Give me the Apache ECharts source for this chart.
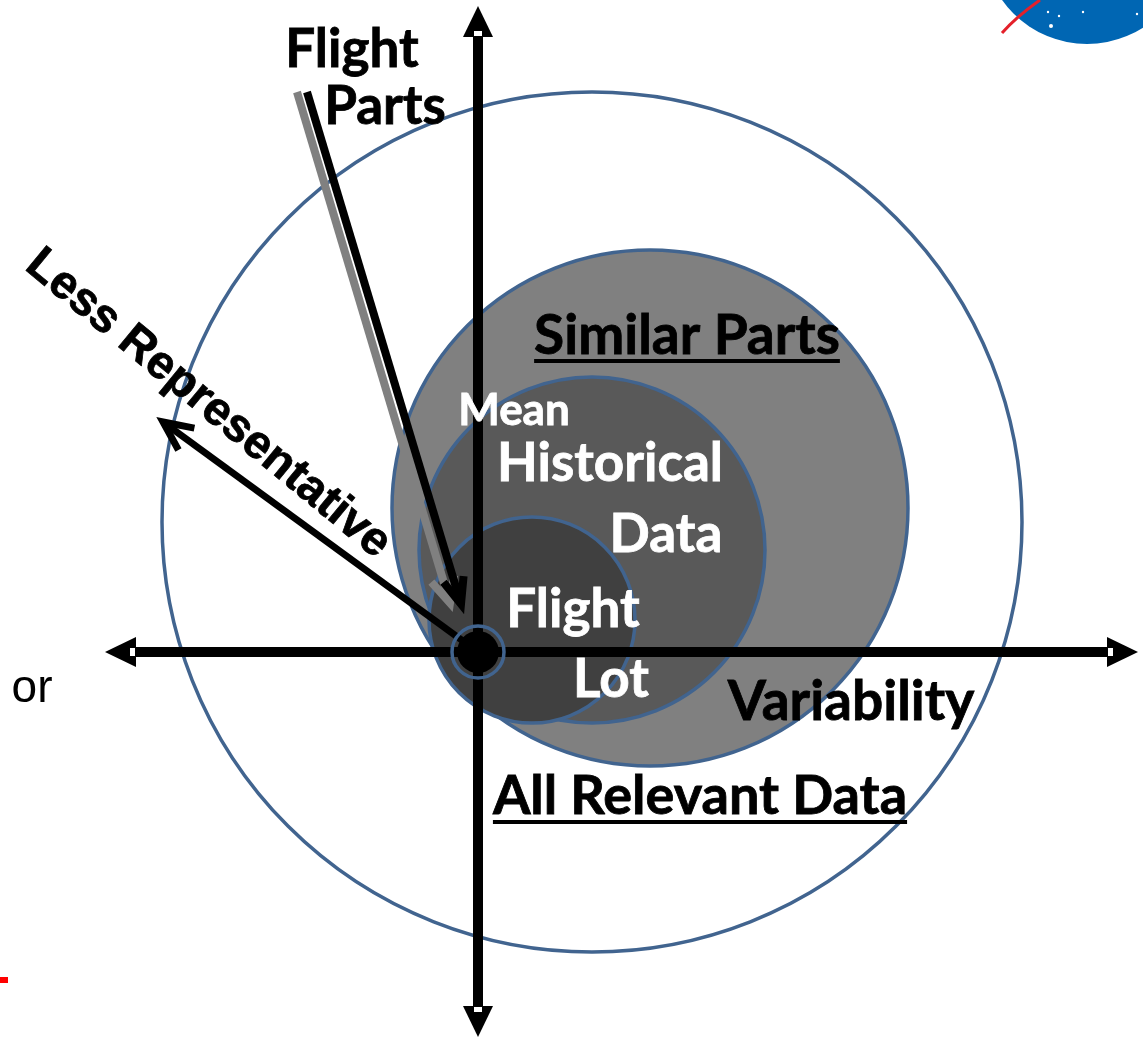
<!DOCTYPE html>
<html>
<head>
<meta charset="utf-8">
<script src="https://cdn.jsdelivr.net/npm/echarts@6/dist/echarts.min.js"></script>
<style>
html,body{margin:0;padding:0;background:#ffffff;}
#c{width:1143px;height:1038px;}
</style>
</head>
<body>
<div id="c"></div>
<script>
// ---------- DATA (1 unit = 10 px of the picture, origin at the mean point) ----------
const circleNames   = ['All Relevant Data', 'Similar Parts', 'Historical Data', 'Flight Lot'];
const circleCenterX = [11.4, 17.2, 11.4, 5.4];
const circleCenterY = [13.0, 14.4, 10.2, 3.2];
const circleRadius  = [43.0, 25.8, 17.3, 10.3];

const meanPoint      = [0, 0];
const meanRingRadius = 2.6;
const meanDotRadius  = 2.1;

const axisNames = ['Variability', 'Representativeness'];
const axisFromX = [-37.3, 0];
const axisFromY = [0, -38.5];
const axisToX   = [66.0, 0];
const axisToY   = [0, 64.6];

const arrowNames = ['Less Representative', 'Flight Parts (shadow)', 'Flight Parts'];
const arrowFromX = [0, -18.1, -17.1];
const arrowFromY = [0, 56.0, 56.0];
const arrowToX   = [-31.5, -2.8, -1.7];
const arrowToY   = [23.0, 4.9, 4.8];

const labelTexts = ['Flight', 'Parts', 'Similar Parts', 'Mean', 'Historical', 'Data',
                    'Flight', 'Lot', 'Variability', 'All Relevant Data', 'Less Representative', 'or'];
const labelX = [-12.6, -9.3, 20.9, 3.6, 13.2, 18.8, 9.5, 13.3, 37.3, 22.2, -27.0, -44.6];
const labelY = [60.2, 54.5, 31.6, 24.1, 18.8, 11.7, 4.2, -2.8, -5.0, -14.5, 24.8, -3.7];

// decorations at the picture edges (logo fragment, red mark)
const logoCenter = [60.9, 71.2];
const logoRadius = 10.4;
const logoSwooshX = [52.4, 56.2];
const logoSwooshY = [61.9, 65.2];
const logoStarX = [57.0, 58.1, 60.5, 57.3, 65.9];
const logoStarY = [64.0, 63.6, 64.0, 62.6, 63.8];
const redMarkX = [-47.8, -47.0];
const redMarkY = [-32.8, -32.8];

// ---------- STYLES ----------
const circleFill   = ['rgba(0,0,0,0)', '#808080', '#595959', '#404040'];
const circleStroke = '#41648F';
const calibriLike = 'Lato';
const labelStyle = [
  {size: 53, weight: 'bold', family: calibriLike, color: '#000'},
  {size: 53, weight: 'bold', family: calibriLike, color: '#000'},
  {size: 55, weight: 'bold', family: calibriLike, color: '#000', underline: true},
  {size: 44, weight: 'bold', family: calibriLike, color: '#fff'},
  {size: 53, weight: 'bold', family: calibriLike, color: '#fff'},
  {size: 53, weight: 'bold', family: calibriLike, color: '#fff'},
  {size: 53, weight: 'bold', family: calibriLike, color: '#fff'},
  {size: 53, weight: 'bold', family: calibriLike, color: '#fff'},
  {size: 55, weight: 'bold', family: calibriLike, color: '#000'},
  {size: 54, weight: 'bold', family: calibriLike, color: '#000', underline: true},
  {size: 47, weight: 'bold', family: '"Liberation Sans", Arial', color: '#000', rotate: -39.5},
  {size: 46, weight: 'normal', family: '"Liberation Sans", Arial', color: '#000'}
];
const arrowStyle = [
  {color: '#000', width: 7, headLen: 32, headAngle: 25},
  {color: '#808080', width: 8, headLen: 28, headAngle: 25},
  {color: '#000', width: 8, headLen: 28, headAngle: 22}
];

const measureCtx = document.createElement('canvas').getContext('2d');
function textWidth(txt, st) {
  measureCtx.font = st.weight + ' ' + st.size + 'px ' + st.family;
  return measureCtx.measureText(txt).width;
}

const chart = echarts.init(document.getElementById('c'), null, {renderer: 'canvas'});

const option = {
  backgroundColor: '#ffffff',
  animation: false,
  grid: {left: 0, right: 0, top: 0, bottom: 0, containLabel: false},
  xAxis: {type: 'value', min: -47.8, max: 66.5, show: false},
  yAxis: {type: 'value', min: -38.6, max: 65.2, show: false},
  series: [
    // logo fragment + red mark
    {
      type: 'custom', z: 1, clip: false,
      data: [[logoCenter[0], logoCenter[1], logoRadius]],
      renderItem: function (params, api) {
        const c = api.coord([api.value(0), api.value(1)]);
        const r = api.size([api.value(2), 0])[0];
        const ch = [{type: 'circle', shape: {cx: c[0], cy: c[1], r: r}, style: {fill: '#0066B3'}}];
        const s1 = api.coord([logoSwooshX[0], logoSwooshY[0]]);
        const s2 = api.coord([logoSwooshX[1], logoSwooshY[1]]);
        ch.push({type: 'bezierCurve', shape: {x1: s1[0], y1: s1[1], x2: s2[0], y2: s2[1],
                 cpx1: s1[0] + 14, cpy1: s1[1] - 16}, style: {stroke: '#E4202A', lineWidth: 3, fill: null}});
        for (let k = 0; k < logoStarX.length; k++) {
          const p = api.coord([logoStarX[k], logoStarY[k]]);
          ch.push({type: 'circle', shape: {cx: p[0], cy: p[1], r: k === 3 ? 2 : 1.2}, style: {fill: '#ffffff'}});
        }
        const m1 = api.coord([redMarkX[0], redMarkY[0]]);
        const m2 = api.coord([redMarkX[1], redMarkY[1]]);
        ch.push({type: 'line', shape: {x1: m1[0], y1: m1[1], x2: m2[0], y2: m2[1]}, style: {stroke: '#FF0000', lineWidth: 6}});
        return {type: 'group', children: ch};
      }
    },
    // circles
    {
      type: 'custom', z: 2, clip: false,
      data: circleNames.map((n, i) => [circleCenterX[i], circleCenterY[i], circleRadius[i]]),
      renderItem: function (params, api) {
        const c = api.coord([api.value(0), api.value(1)]);
        const r = api.size([api.value(2), 0])[0];
        return {type: 'circle', shape: {cx: c[0], cy: c[1], r: r},
                style: {fill: circleFill[params.dataIndex], stroke: circleStroke, lineWidth: 3.5}};
      }
    },
    // axes with filled arrowheads on both ends
    {
      type: 'custom', z: 3, clip: false,
      data: axisNames.map((n, i) => [axisFromX[i], axisFromY[i], axisToX[i], axisToY[i]]),
      renderItem: function (params, api) {
        const a = api.coord([api.value(0), api.value(1)]);
        const b = api.coord([api.value(2), api.value(3)]);
        const dx = b[0] - a[0], dy = b[1] - a[1], L = Math.hypot(dx, dy);
        const ux = dx / L, uy = dy / L, nx = -uy, ny = ux;
        const HL = 31, HW = 15, W = 10;
        const ch = [{type: 'line', shape: {x1: a[0] + ux * HL, y1: a[1] + uy * HL, x2: b[0] - ux * HL, y2: b[1] - uy * HL},
                     style: {stroke: '#000', lineWidth: W}}];
        [[a, -ux, -uy], [b, ux, uy]].forEach(function (e) {
          const t = e[0], ox = e[1], oy = e[2];
          ch.push({type: 'polygon', shape: {points: [
            [t[0], t[1]],
            [t[0] - ox * HL + nx * HW, t[1] - oy * HL + ny * HW],
            [t[0] - ox * HL - nx * HW, t[1] - oy * HL - ny * HW]]}, style: {fill: '#000'}});
          ch.push({type: 'polygon', shape: {points: [
            [t[0] - ox * 25 + nx * 4, t[1] - oy * 25 + ny * 4],
            [t[0] - ox * 30 + nx * 4, t[1] - oy * 30 + ny * 4],
            [t[0] - ox * 30 - nx * 4, t[1] - oy * 30 - ny * 4],
            [t[0] - ox * 25 - nx * 4, t[1] - oy * 25 - ny * 4]]}, style: {fill: '#fff'}});
        });
        return {type: 'group', children: ch};
      }
    },
    // open arrows
    {
      type: 'custom', z: 4, clip: false,
      data: arrowNames.map((n, i) => [arrowFromX[i], arrowFromY[i], arrowToX[i], arrowToY[i]]),
      renderItem: function (params, api) {
        const st = arrowStyle[params.dataIndex];
        const a = api.coord([api.value(0), api.value(1)]);
        const b = api.coord([api.value(2), api.value(3)]);
        const ang = Math.atan2(a[1] - b[1], a[0] - b[0]);
        const h = st.headAngle * Math.PI / 180;
        const p1 = [b[0] + st.headLen * Math.cos(ang + h), b[1] + st.headLen * Math.sin(ang + h)];
        const p2 = [b[0] + st.headLen * Math.cos(ang - h), b[1] + st.headLen * Math.sin(ang - h)];
        return {type: 'group', children: [
          {type: 'line', shape: {x1: a[0], y1: a[1], x2: b[0], y2: b[1]}, style: {stroke: st.color, lineWidth: st.width}},
          {type: 'polyline', shape: {points: [p1, b, p2]}, style: {stroke: st.color, lineWidth: st.width, fill: null, lineJoin: 'miter'}}
        ]};
      }
    },
    // mean point
    {
      type: 'custom', z: 5, clip: false,
      data: [[meanPoint[0], meanPoint[1], meanRingRadius, meanDotRadius]],
      renderItem: function (params, api) {
        const c = api.coord([api.value(0), api.value(1)]);
        const r1 = api.size([api.value(2), 0])[0];
        const r2 = api.size([api.value(3), 0])[0];
        return {type: 'group', children: [
          {type: 'circle', shape: {cx: c[0], cy: c[1], r: r1}, style: {fill: null, stroke: circleStroke, lineWidth: 3.5}},
          {type: 'circle', shape: {cx: c[0], cy: c[1], r: r2}, style: {fill: '#000'}}
        ]};
      }
    },
    // labels
    {
      type: 'custom', z: 6, clip: false,
      data: labelTexts.map((t, i) => [labelX[i], labelY[i]]),
      renderItem: function (params, api) {
        const i = params.dataIndex;
        const st = labelStyle[i];
        const p = api.coord([api.value(0), api.value(1)]);
        const ch = [{
          type: 'text', x: p[0], y: p[1], rotation: (st.rotate || 0) * Math.PI / 180,
          style: {text: labelTexts[i], fill: st.color, fontSize: st.size, fontWeight: st.weight,
                  fontFamily: st.family, align: 'center', verticalAlign: 'middle',
                  stroke: st.weight === 'bold' ? st.color : null, lineWidth: st.weight === 'bold' ? 0.8 : 0}
        }];
        if (st.underline) {
          const w = textWidth(labelTexts[i], st);
          ch.push({type: 'line', shape: {x1: p[0] - w / 2, y1: p[1] + 25, x2: p[0] + w / 2, y2: p[1] + 25},
                   style: {stroke: st.color, lineWidth: 4}});
        }
        return {type: 'group', children: ch};
      }
    }
  ]
};
chart.setOption(option);
</script>
</body>
</html>
